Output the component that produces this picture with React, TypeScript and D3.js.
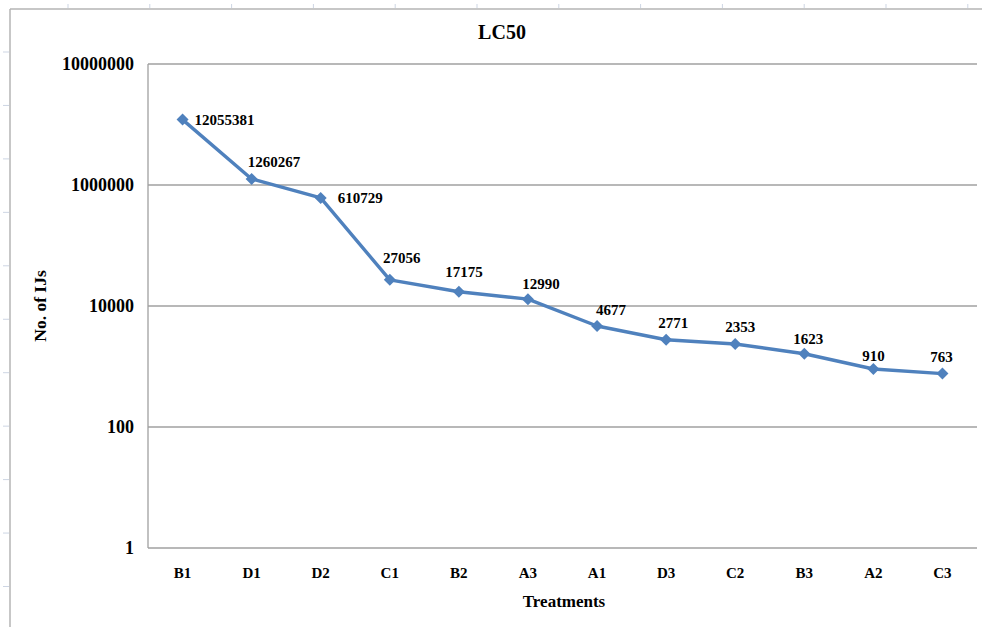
import React, { useEffect, useRef } from "react";
import * as d3 from "d3";

const categories = ["B1", "D1", "D2", "C1", "B2", "A3", "A1", "D3", "C2", "B3", "A2", "C3"];
const values = [12055381, 1260267, 610729, 27056, 17175, 12990, 4677, 2771, 2353, 1623, 910, 763];
const yTickValues = [1, 100, 10000, 1000000, 100000000];
const yTickLabels = ["1", "100", "10000", "1000000", "10000000"];
// label placement (layout only): dx, dy relative to point, anchor
const labelPlacement: [number, number, string][] = [
  [12, 5, "start"],
  [-4, -12, "start"],
  [17, 5, "start"],
  [12, -17, "middle"],
  [5, -15, "middle"],
  [13, -10, "middle"],
  [14, -11, "middle"],
  [7, -12, "middle"],
  [5, -12, "middle"],
  [4, -10, "middle"],
  [0, -8, "middle"],
  [-1, -12, "middle"],
];

const W = 982;
const H = 627;
const M = { left: 148, right: 977, top: 64, bottom: 548 };
const FONT = "'Liberation Serif', 'Times New Roman', serif";

export default function App() {
  const ref = useRef<SVGSVGElement>(null);

  useEffect(() => {
    const svg = d3.select(ref.current);
    svg.selectAll("*").remove();

    // outer frame and spreadsheet artifacts
    const frameColor = "#b4b4b4";
    svg.append("line").attr("x1", 10).attr("x2", 10).attr("y1", 9).attr("y2", H).attr("stroke", frameColor).attr("stroke-width", 1.5);
    svg.append("line").attr("x1", 10).attr("x2", W).attr("y1", 9).attr("y2", 9).attr("stroke", frameColor).attr("stroke-width", 1.5);
    d3.range(52, H, 53.45).forEach((y) => {
      svg.append("line").attr("x1", 3).attr("x2", 9).attr("y1", y).attr("y2", y).attr("stroke", "#cdd5e3").attr("stroke-width", 1);
    });
    d3.range(68, W, 81.8).forEach((x) => {
      svg.append("line").attr("x1", x).attr("x2", x).attr("y1", 4).attr("y2", 8).attr("stroke", "#cdd5e3").attr("stroke-width", 1);
    });

    const x = d3.scaleBand<string>().domain(categories).range([M.left, M.right]).padding(0);
    const y = d3.scaleLog().domain([1, 1e8]).range([M.bottom, M.top]);

    // gridlines
    const gridColor = "#a0a0a0";
    svg.append("g")
      .selectAll("line")
      .data(yTickValues)
      .join("line")
      .attr("x1", M.left)
      .attr("x2", M.right)
      .attr("y1", (d) => y(d))
      .attr("y2", (d) => y(d))
      .attr("stroke", gridColor)
      .attr("stroke-width", 1.3);
    svg.append("line").attr("x1", M.left).attr("x2", M.left).attr("y1", M.top).attr("y2", M.bottom).attr("stroke", gridColor).attr("stroke-width", 1.3);

    // y tick labels
    svg.append("g")
      .selectAll("text")
      .data(yTickValues)
      .join("text")
      .attr("x", 134)
      .attr("y", (d) => y(d))
      .attr("dy", "0.35em")
      .attr("text-anchor", "end")
      .attr("font-family", FONT)
      .attr("font-weight", "bold")
      .attr("font-size", 18)
      .text((d, i) => yTickLabels[i]);

    // x tick labels
    svg.append("g")
      .selectAll("text")
      .data(categories)
      .join("text")
      .attr("x", (d) => (x(d) as number) + x.bandwidth() / 2)
      .attr("y", 573)
      .attr("dy", "0.35em")
      .attr("text-anchor", "middle")
      .attr("font-family", FONT)
      .attr("font-weight", "bold")
      .attr("font-size", 15)
      .text((d) => d);

    const cx = (i: number) => (x(categories[i]) as number) + x.bandwidth() / 2;

    // line
    const line = d3.line<number>().x((d, i) => cx(i)).y((d) => y(d));
    svg.append("path").datum(values).attr("d", line).attr("fill", "none").attr("stroke", "#4f81bd").attr("stroke-width", 3.4).attr("stroke-linejoin", "round");

    // markers
    svg.append("g")
      .selectAll("path")
      .data(values)
      .join("path")
      .attr("transform", (d, i) => `translate(${cx(i)},${y(d)})`)
      .attr("d", "M0,-6L6,0L0,6L-6,0Z")
      .attr("fill", "#4f81bd");

    // data labels
    svg.append("g")
      .selectAll("text")
      .data(values)
      .join("text")
      .attr("x", (d, i) => cx(i) + labelPlacement[i][0])
      .attr("y", (d, i) => y(d) + labelPlacement[i][1])
      .attr("text-anchor", (d, i) => labelPlacement[i][2])
      .attr("font-family", FONT)
      .attr("font-weight", "bold")
      .attr("font-size", 15)
      .text((d) => String(d));

    // title
    svg.append("text").attr("x", 502).attr("y", 39).attr("text-anchor", "middle").attr("font-family", FONT).attr("font-weight", "bold").attr("font-size", 20).text("LC50");

    // axis titles
    svg.append("text").attr("x", 564).attr("y", 607).attr("text-anchor", "middle").attr("font-family", FONT).attr("font-weight", "bold").attr("font-size", 17).text("Treatments");
    svg.append("text")
      .attr("transform", `translate(46,${(M.top + M.bottom) / 2}) rotate(-90)`)
      .attr("text-anchor", "middle")
      .attr("font-family", FONT)
      .attr("font-weight", "bold")
      .attr("font-size", 17.5)
      .text("No. of IJs");
  }, []);

  return (
    <svg
      ref={ref}
      width={W}
      height={H}
      viewBox={`0 0 ${W} ${H}`}
      style={{ position: "absolute", left: 0, top: 0, background: "#ffffff" }}
    />
  );
}
